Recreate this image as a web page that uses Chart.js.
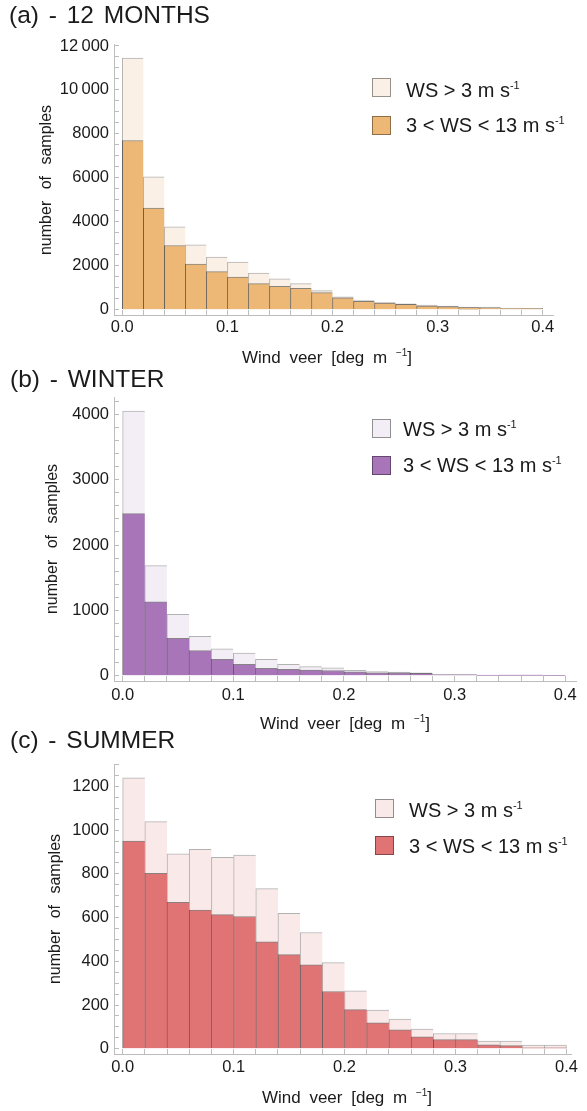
<!DOCTYPE html>
<html>
<head>
<meta charset="utf-8">
<script src="https://cdn.jsdelivr.net/npm/chart.js@4.4.0/dist/chart.umd.min.js"></script>
<style>
  body { margin: 0; background: #fff; }
  #page { position: relative; width: 587px; height: 1111px; overflow: hidden;
          font-family: "Liberation Sans", Arial, sans-serif; color: #1a1a1a; }
  canvas { position: absolute; left: 0; }
  .title { position: absolute; font-size: 24.5px; line-height: 24px; word-spacing: 3px; white-space: nowrap; }
  .xtitle { position: absolute; font-size: 17px; line-height: 18px; word-spacing: 4px;
            white-space: nowrap; transform: translate(-50%, -50%); }
  .ytitle { position: absolute; font-size: 16px; line-height: 18px; word-spacing: 7px;
            white-space: nowrap; transform: translate(-50%, -50%) rotate(-90deg); }
  .leg { position: absolute; font-size: 20px; line-height: 20px; white-space: nowrap; }
  .sw { position: absolute; width: 17px; height: 17px; border: 1px solid rgba(0,0,0,0.4); }
  sup { font-size: 11px; vertical-align: 8px; line-height: 0; }
  .xtitle sup { font-size: 10px; vertical-align: 7px; }
</style>
</head>
<body>
<div id="page">
  <div class="title" style="left:9px; top:3px">(a) - 12 MONTHS</div>
  <div class="title" style="left:10px; top:367px">(b) - WINTER</div>
  <div class="title" style="left:10px; top:728px">(c) - SUMMER</div>

  <div class="xtitle" style="left:327px; top:358px">Wind veer [deg m <sup>&minus;1</sup>]</div>
  <div class="xtitle" style="left:345px; top:724px">Wind veer [deg m <sup>&minus;1</sup>]</div>
  <div class="xtitle" style="left:347px; top:1098px">Wind veer [deg m <sup>&minus;1</sup>]</div>

  <div class="ytitle" style="left:46px; top:180px">number of samples</div>
  <div class="ytitle" style="left:52px; top:539px">number of samples</div>
  <div class="ytitle" style="left:55px; top:909px">number of samples</div>

  <div class="sw" style="left:372px; top:78px; background:#FAF0E5"></div>
  <div class="leg" style="left:406px; top:80px">WS &gt; 3 m s<sup>-1</sup></div>
  <div class="sw" style="left:372px; top:116px; background:#EDB875"></div>
  <div class="leg" style="left:406px; top:115px">3 &lt; WS &lt; 13 m s<sup>-1</sup></div>

  <div class="sw" style="left:372px; top:419px; background:#F3EEF6"></div>
  <div class="leg" style="left:403px; top:419px">WS &gt; 3 m s<sup>-1</sup></div>
  <div class="sw" style="left:372px; top:456px; background:#A876B8"></div>
  <div class="leg" style="left:403px; top:455px">3 &lt; WS &lt; 13 m s<sup>-1</sup></div>

  <div class="sw" style="left:375px; top:799px; background:#F9E9E9"></div>
  <div class="leg" style="left:409px; top:800px">WS &gt; 3 m s<sup>-1</sup></div>
  <div class="sw" style="left:375px; top:836px; background:#E07475"></div>
  <div class="leg" style="left:409px; top:836px">3 &lt; WS &lt; 13 m s<sup>-1</sup></div>
</div>

<script>
// histogram bins of wind veer [deg/m]
const binEdges = [0, 0.02, 0.04, 0.06, 0.08, 0.1, 0.12, 0.14, 0.16, 0.18, 0.2,
                  0.22, 0.24, 0.26, 0.28, 0.3, 0.32, 0.34, 0.36, 0.38, 0.4];
const xMajor = [0, 0.1, 0.2, 0.3, 0.4];
const xLabels = ["0.0", "0.1", "0.2", "0.3", "0.4"];

// (a) 12 months
const yearAll = [11450, 6050, 3770, 2950, 2400, 2170, 1670, 1410, 1185, 865,
                 590, 420, 320, 270, 210, 165, 120, 115, 75, 60];
const yearMid = [7700, 4630, 2920, 2080, 1730, 1490, 1185, 1060, 970, 775,
                 545, 380, 300, 243, 167, 137, 91, 88, 46, 46];
const yearTicks = [0, 2000, 4000, 6000, 8000, 10000, 12000];

// (b) winter
const winterAll = [4050, 1685, 940, 603, 413, 347, 251, 174, 138, 122,
                   84, 63, 55, 45, 20, 20, 10, 15, 15, 5];
const winterMid = [2480, 1130, 572, 383, 251, 174, 112, 97, 87, 80,
                   61, 43, 43, 36, 15, 15, 5, 5, 5, 2];
const winterTicks = [0, 1000, 2000, 3000, 4000];

// (c) summer
const summerAll = [1240, 1039, 892, 912, 876, 886, 733, 620, 532, 394,
                   265, 177, 136, 90, 70, 70, 35, 35, 17, 17];
const summerMid = [950, 803, 670, 634, 614, 605, 489, 431, 384, 262,
                   179, 119, 87, 55, 42, 42, 18, 14, 4, 4];
const summerTicks = [0, 200, 400, 600, 800, 1000, 1200];

const binCenters = binEdges.slice(1).map((e, i) => (e + binEdges[i]) / 2);

Chart.defaults.font.family = '"Liberation Sans", Arial, sans-serif';

const panels = [
  { top: 0, height: 370, area: { top: 44, right: 553, bottom: 315 },
    xMin: -0.0079, xMax: 0.4098, yMin: -241, yMax: 12091, minor: 500, xPad: 8,
    ticks: yearTicks, all: yearAll, mid: yearMid, light: "#FAF0E5", dark: "#EDB875" },
  { top: 370, height: 370, area: { top: 27, right: 578, bottom: 311 },
    xMin: -0.0078, xMax: 0.4099, yMin: -81, yMax: 4265, minor: 200, xPad: 10,
    ticks: winterTicks, all: winterAll, mid: winterMid, light: "#F3EEF6", dark: "#A876B8" },
  { top: 740, height: 371, area: { top: 24, right: 580, bottom: 314 },
    xMin: -0.0078, xMax: 0.4047, yMin: -24, yMax: 1303, minor: 50, xPad: 9,
    ticks: summerTicks, all: summerAll, mid: summerMid, light: "#F9E9E9", dark: "#E07475" }
];

function fmtY(v) {
  const s = String(v);
  return v >= 10000 ? s.slice(0, -3) + "\u2009" + s.slice(-3) : s;
}

function drawPanel(p) {
  const canvas = document.createElement("canvas");
  canvas.width = 587;
  canvas.height = p.height;
  canvas.style.top = p.top + "px";
  document.getElementById("page").prepend(canvas);

  const yVals = [];
  for (let v = 0; v <= p.yMax; v += p.minor) yVals.push(v);

  const last = binCenters.length - 1;
  const edges = ctx => ({ top: 1, left: 1, bottom: 0, right: ctx.dataIndex === last ? 1 : 0 });
  const axisColor = "#bdbdbd";
  const tickFont = { size: 16.5 };

  new Chart(canvas, {
    type: "bar",
    data: {
      datasets: [
        {
          label: "WS > 3 m s-1",
          data: binCenters.map((x, i) => ({ x, y: p.all[i] })),
          backgroundColor: p.light,
          borderColor: "rgba(0,0,0,0.3)",
          borderWidth: edges,
          borderSkipped: false,
          grouped: false,
          barPercentage: 1,
          categoryPercentage: 1,
          order: 2
        },
        {
          label: "3 < WS < 13 m s-1",
          data: binCenters.map((x, i) => ({ x, y: p.mid[i] })),
          backgroundColor: p.dark,
          borderColor: "rgba(0,0,0,0.45)",
          borderWidth: edges,
          borderSkipped: false,
          grouped: false,
          barPercentage: 1,
          categoryPercentage: 1,
          order: 1
        }
      ]
    },
    options: {
      responsive: false,
      animation: false,
      events: [],
      layout: { padding: { top: p.area.top, right: 587 - p.area.right, left: 0, bottom: 0 } },
      plugins: { legend: { display: false }, tooltip: { enabled: false } },
      scales: {
        x: {
          type: "linear",
          min: p.xMin,
          max: p.xMax,
          offset: false,
          afterBuildTicks: s => { s.ticks = binEdges.map(v => ({ value: v })); },
          afterFit: s => { s.height = p.height - p.area.bottom; },
          ticks: {
            autoSkip: false,
            maxRotation: 0,
            padding: p.xPad,
            color: "#1a1a1a",
            font: tickFont,
            callback: v => {
              const i = xMajor.findIndex(m => Math.abs(m - v) < 1e-9);
              return i < 0 ? "" : xLabels[i];
            }
          },
          grid: { drawOnChartArea: false, offset: false, tickLength: -5, color: axisColor },
          border: { color: axisColor }
        },
        y: {
          min: p.yMin,
          max: p.yMax,
          afterBuildTicks: s => { s.ticks = yVals.map(v => ({ value: v })); },
          afterFit: s => { s.width = 114; },
          ticks: {
            autoSkip: false,
            padding: 10,
            color: "#1a1a1a",
            font: tickFont,
            callback: v => (p.ticks.includes(v) ? fmtY(v) : "")
          },
          grid: { drawOnChartArea: false, tickLength: -5, color: axisColor },
          border: { color: axisColor }
        }
      }
    }
  });
}

panels.forEach(drawPanel);
</script>
</body>
</html>
